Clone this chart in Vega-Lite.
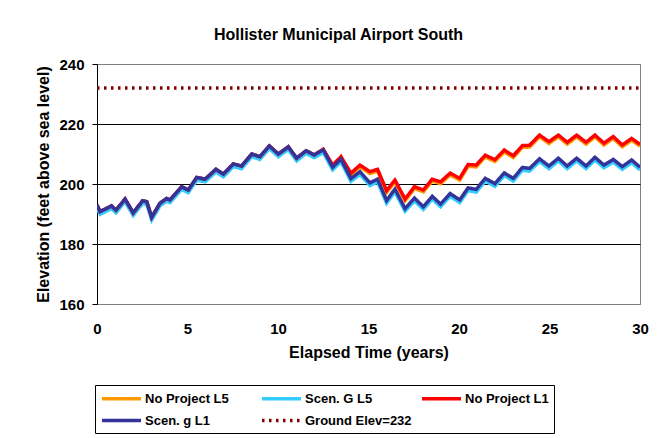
{
  "$schema": "https://vega.github.io/schema/vega-lite/v6.json",
  "width": 543,
  "height": 240,
  "autosize": {"type": "none"},
  "padding": {"left": 97, "top": 64, "right": 17, "bottom": 134},
  "background": "white",
  "config": {
    "font": "Liberation Sans",
    "view": {"stroke": "#808080", "strokeWidth": 1}
  },
  "title": {
    "text": "Hollister Municipal Airport South",
    "fontSize": 16,
    "fontWeight": "bold",
    "font": "Liberation Sans",
    "color": "black",
    "anchor": "middle",
    "dx": -30,
    "offset": 14
  },
  "data": {
    "values": [
      {"s": "Ground Elev=232", "t": 0, "v": 232},
      {"s": "Ground Elev=232", "t": 30, "v": 232},
      {"s": "No Project L1", "t": 0, "v": 193.0},
      {"s": "No Project L1", "t": 0.17, "v": 190.8},
      {"s": "No Project L1", "t": 0.8, "v": 192.7},
      {"s": "No Project L1", "t": 1.05, "v": 191.3},
      {"s": "No Project L1", "t": 1.55, "v": 195.0},
      {"s": "No Project L1", "t": 2.0, "v": 190.4},
      {"s": "No Project L1", "t": 2.52, "v": 194.4},
      {"s": "No Project L1", "t": 2.75, "v": 194.1},
      {"s": "No Project L1", "t": 3.02, "v": 188.9},
      {"s": "No Project L1", "t": 3.48, "v": 193.6},
      {"s": "No Project L1", "t": 3.85, "v": 195.2},
      {"s": "No Project L1", "t": 4.03, "v": 194.7},
      {"s": "No Project L1", "t": 4.68, "v": 199.1},
      {"s": "No Project L1", "t": 5.04, "v": 198.0},
      {"s": "No Project L1", "t": 5.51, "v": 202.2},
      {"s": "No Project L1", "t": 5.97, "v": 201.6},
      {"s": "No Project L1", "t": 6.57, "v": 204.9},
      {"s": "No Project L1", "t": 6.98, "v": 203.3},
      {"s": "No Project L1", "t": 7.53, "v": 206.7},
      {"s": "No Project L1", "t": 7.99, "v": 206.0},
      {"s": "No Project L1", "t": 8.55, "v": 210.0},
      {"s": "No Project L1", "t": 9.0, "v": 209.1},
      {"s": "No Project L1", "t": 9.52, "v": 212.7},
      {"s": "No Project L1", "t": 10.02, "v": 210.0},
      {"s": "No Project L1", "t": 10.57, "v": 212.4},
      {"s": "No Project L1", "t": 11.03, "v": 208.6},
      {"s": "No Project L1", "t": 11.55, "v": 211.1},
      {"s": "No Project L1", "t": 12.0, "v": 209.7},
      {"s": "No Project L1", "t": 12.5, "v": 211.6},
      {"s": "No Project L1", "t": 13.02, "v": 206.3},
      {"s": "No Project L1", "t": 13.48, "v": 209.1},
      {"s": "No Project L1", "t": 14.03, "v": 203.6},
      {"s": "No Project L1", "t": 14.53, "v": 206.3},
      {"s": "No Project L1", "t": 15.08, "v": 204.1},
      {"s": "No Project L1", "t": 15.5, "v": 204.9},
      {"s": "No Project L1", "t": 16.0, "v": 197.8},
      {"s": "No Project L1", "t": 16.46, "v": 201.3},
      {"s": "No Project L1", "t": 17.02, "v": 195.0},
      {"s": "No Project L1", "t": 17.54, "v": 199.1},
      {"s": "No Project L1", "t": 18.03, "v": 198.0},
      {"s": "No Project L1", "t": 18.52, "v": 201.6},
      {"s": "No Project L1", "t": 18.98, "v": 200.7},
      {"s": "No Project L1", "t": 19.51, "v": 203.6},
      {"s": "No Project L1", "t": 20.04, "v": 201.9},
      {"s": "No Project L1", "t": 20.5, "v": 206.5},
      {"s": "No Project L1", "t": 20.95, "v": 206.3},
      {"s": "No Project L1", "t": 21.45, "v": 209.6},
      {"s": "No Project L1", "t": 21.98, "v": 208.1},
      {"s": "No Project L1", "t": 22.5, "v": 211.3},
      {"s": "No Project L1", "t": 23.0, "v": 209.4},
      {"s": "No Project L1", "t": 23.5, "v": 212.8},
      {"s": "No Project L1", "t": 23.9, "v": 212.9},
      {"s": "No Project L1", "t": 24.45, "v": 216.3},
      {"s": "No Project L1", "t": 24.97, "v": 214.1},
      {"s": "No Project L1", "t": 25.49, "v": 216.3},
      {"s": "No Project L1", "t": 25.98, "v": 213.9},
      {"s": "No Project L1", "t": 26.5, "v": 216.3},
      {"s": "No Project L1", "t": 27.02, "v": 213.9},
      {"s": "No Project L1", "t": 27.51, "v": 216.3},
      {"s": "No Project L1", "t": 28.01, "v": 213.6},
      {"s": "No Project L1", "t": 28.52, "v": 215.8},
      {"s": "No Project L1", "t": 29.02, "v": 213.0},
      {"s": "No Project L1", "t": 29.54, "v": 215.2},
      {"s": "No Project L1", "t": 30.0, "v": 213.2},
      {"s": "No Project L5", "t": 0, "v": 192.8},
      {"s": "No Project L5", "t": 0.17, "v": 190.6},
      {"s": "No Project L5", "t": 0.8, "v": 192.5},
      {"s": "No Project L5", "t": 1.05, "v": 191.1},
      {"s": "No Project L5", "t": 1.55, "v": 194.8},
      {"s": "No Project L5", "t": 2.0, "v": 190.2},
      {"s": "No Project L5", "t": 2.52, "v": 194.2},
      {"s": "No Project L5", "t": 2.75, "v": 193.9},
      {"s": "No Project L5", "t": 3.02, "v": 188.7},
      {"s": "No Project L5", "t": 3.48, "v": 193.4},
      {"s": "No Project L5", "t": 3.85, "v": 195.0},
      {"s": "No Project L5", "t": 4.03, "v": 194.5},
      {"s": "No Project L5", "t": 4.68, "v": 198.9},
      {"s": "No Project L5", "t": 5.04, "v": 197.8},
      {"s": "No Project L5", "t": 5.51, "v": 202.0},
      {"s": "No Project L5", "t": 5.97, "v": 201.4},
      {"s": "No Project L5", "t": 6.57, "v": 204.7},
      {"s": "No Project L5", "t": 6.98, "v": 203.1},
      {"s": "No Project L5", "t": 7.53, "v": 206.5},
      {"s": "No Project L5", "t": 7.99, "v": 205.8},
      {"s": "No Project L5", "t": 8.55, "v": 209.8},
      {"s": "No Project L5", "t": 9.0, "v": 208.9},
      {"s": "No Project L5", "t": 9.52, "v": 212.5},
      {"s": "No Project L5", "t": 10.02, "v": 209.8},
      {"s": "No Project L5", "t": 10.57, "v": 212.2},
      {"s": "No Project L5", "t": 11.03, "v": 208.4},
      {"s": "No Project L5", "t": 11.55, "v": 210.9},
      {"s": "No Project L5", "t": 12.0, "v": 209.5},
      {"s": "No Project L5", "t": 12.5, "v": 211.4},
      {"s": "No Project L5", "t": 13.02, "v": 205.7},
      {"s": "No Project L5", "t": 13.48, "v": 208.5},
      {"s": "No Project L5", "t": 14.03, "v": 203.0},
      {"s": "No Project L5", "t": 14.53, "v": 205.7},
      {"s": "No Project L5", "t": 15.08, "v": 203.5},
      {"s": "No Project L5", "t": 15.5, "v": 204.3},
      {"s": "No Project L5", "t": 16.0, "v": 197.2},
      {"s": "No Project L5", "t": 16.46, "v": 200.7},
      {"s": "No Project L5", "t": 17.02, "v": 194.4},
      {"s": "No Project L5", "t": 17.54, "v": 198.5},
      {"s": "No Project L5", "t": 18.03, "v": 197.4},
      {"s": "No Project L5", "t": 18.52, "v": 201.0},
      {"s": "No Project L5", "t": 18.98, "v": 200.1},
      {"s": "No Project L5", "t": 19.51, "v": 203.0},
      {"s": "No Project L5", "t": 20.04, "v": 201.3},
      {"s": "No Project L5", "t": 20.5, "v": 205.9},
      {"s": "No Project L5", "t": 20.95, "v": 205.7},
      {"s": "No Project L5", "t": 21.45, "v": 209.0},
      {"s": "No Project L5", "t": 21.98, "v": 207.5},
      {"s": "No Project L5", "t": 22.5, "v": 210.7},
      {"s": "No Project L5", "t": 23.0, "v": 208.8},
      {"s": "No Project L5", "t": 23.5, "v": 212.2},
      {"s": "No Project L5", "t": 23.9, "v": 212.3},
      {"s": "No Project L5", "t": 24.45, "v": 215.7},
      {"s": "No Project L5", "t": 24.97, "v": 213.5},
      {"s": "No Project L5", "t": 25.49, "v": 215.7},
      {"s": "No Project L5", "t": 25.98, "v": 213.3},
      {"s": "No Project L5", "t": 26.5, "v": 215.7},
      {"s": "No Project L5", "t": 27.02, "v": 213.3},
      {"s": "No Project L5", "t": 27.51, "v": 215.7},
      {"s": "No Project L5", "t": 28.01, "v": 213.0},
      {"s": "No Project L5", "t": 28.52, "v": 215.2},
      {"s": "No Project L5", "t": 29.02, "v": 212.4},
      {"s": "No Project L5", "t": 29.54, "v": 214.6},
      {"s": "No Project L5", "t": 30.0, "v": 212.6},
      {"s": "Scen. g L1", "t": 0, "v": 193.0},
      {"s": "Scen. g L1", "t": 0.17, "v": 190.8},
      {"s": "Scen. g L1", "t": 0.8, "v": 192.7},
      {"s": "Scen. g L1", "t": 1.05, "v": 191.3},
      {"s": "Scen. g L1", "t": 1.55, "v": 195.0},
      {"s": "Scen. g L1", "t": 2.0, "v": 190.4},
      {"s": "Scen. g L1", "t": 2.52, "v": 194.4},
      {"s": "Scen. g L1", "t": 2.75, "v": 194.1},
      {"s": "Scen. g L1", "t": 3.02, "v": 188.9},
      {"s": "Scen. g L1", "t": 3.48, "v": 193.6},
      {"s": "Scen. g L1", "t": 3.85, "v": 195.2},
      {"s": "Scen. g L1", "t": 4.03, "v": 194.7},
      {"s": "Scen. g L1", "t": 4.68, "v": 199.1},
      {"s": "Scen. g L1", "t": 5.04, "v": 198.0},
      {"s": "Scen. g L1", "t": 5.51, "v": 202.2},
      {"s": "Scen. g L1", "t": 5.97, "v": 201.6},
      {"s": "Scen. g L1", "t": 6.57, "v": 204.9},
      {"s": "Scen. g L1", "t": 6.98, "v": 203.3},
      {"s": "Scen. g L1", "t": 7.53, "v": 206.7},
      {"s": "Scen. g L1", "t": 7.99, "v": 206.0},
      {"s": "Scen. g L1", "t": 8.55, "v": 210.0},
      {"s": "Scen. g L1", "t": 9.0, "v": 209.1},
      {"s": "Scen. g L1", "t": 9.52, "v": 212.7},
      {"s": "Scen. g L1", "t": 10.02, "v": 210.0},
      {"s": "Scen. g L1", "t": 10.57, "v": 212.4},
      {"s": "Scen. g L1", "t": 11.03, "v": 208.6},
      {"s": "Scen. g L1", "t": 11.55, "v": 211.1},
      {"s": "Scen. g L1", "t": 12.0, "v": 209.7},
      {"s": "Scen. g L1", "t": 12.5, "v": 211.4},
      {"s": "Scen. g L1", "t": 13.02, "v": 205.6},
      {"s": "Scen. g L1", "t": 13.48, "v": 208.3},
      {"s": "Scen. g L1", "t": 14.03, "v": 201.8},
      {"s": "Scen. g L1", "t": 14.53, "v": 204.1},
      {"s": "Scen. g L1", "t": 15.08, "v": 200.4},
      {"s": "Scen. g L1", "t": 15.5, "v": 201.6},
      {"s": "Scen. g L1", "t": 16.0, "v": 194.5},
      {"s": "Scen. g L1", "t": 16.46, "v": 198.3},
      {"s": "Scen. g L1", "t": 17.02, "v": 191.8},
      {"s": "Scen. g L1", "t": 17.54, "v": 195.3},
      {"s": "Scen. g L1", "t": 18.03, "v": 192.4},
      {"s": "Scen. g L1", "t": 18.52, "v": 195.9},
      {"s": "Scen. g L1", "t": 18.98, "v": 193.3},
      {"s": "Scen. g L1", "t": 19.51, "v": 196.8},
      {"s": "Scen. g L1", "t": 20.04, "v": 194.7},
      {"s": "Scen. g L1", "t": 20.5, "v": 198.7},
      {"s": "Scen. g L1", "t": 20.95, "v": 198.2},
      {"s": "Scen. g L1", "t": 21.45, "v": 201.9},
      {"s": "Scen. g L1", "t": 21.98, "v": 200.1},
      {"s": "Scen. g L1", "t": 22.5, "v": 203.7},
      {"s": "Scen. g L1", "t": 23.0, "v": 201.9},
      {"s": "Scen. g L1", "t": 23.5, "v": 205.5},
      {"s": "Scen. g L1", "t": 23.9, "v": 205.2},
      {"s": "Scen. g L1", "t": 24.45, "v": 208.4},
      {"s": "Scen. g L1", "t": 24.97, "v": 206.0},
      {"s": "Scen. g L1", "t": 25.49, "v": 208.6},
      {"s": "Scen. g L1", "t": 25.98, "v": 206.0},
      {"s": "Scen. g L1", "t": 26.5, "v": 208.6},
      {"s": "Scen. g L1", "t": 27.02, "v": 206.0},
      {"s": "Scen. g L1", "t": 27.51, "v": 208.9},
      {"s": "Scen. g L1", "t": 28.01, "v": 206.3},
      {"s": "Scen. g L1", "t": 28.52, "v": 208.2},
      {"s": "Scen. g L1", "t": 29.02, "v": 205.8},
      {"s": "Scen. g L1", "t": 29.54, "v": 208.0},
      {"s": "Scen. g L1", "t": 30.0, "v": 205.6},
      {"s": "Scen. G L5", "t": 0, "v": 192.1},
      {"s": "Scen. G L5", "t": 0.17, "v": 189.9},
      {"s": "Scen. G L5", "t": 0.8, "v": 191.8},
      {"s": "Scen. G L5", "t": 1.05, "v": 190.4},
      {"s": "Scen. G L5", "t": 1.55, "v": 194.1},
      {"s": "Scen. G L5", "t": 2.0, "v": 189.5},
      {"s": "Scen. G L5", "t": 2.52, "v": 193.5},
      {"s": "Scen. G L5", "t": 2.75, "v": 193.2},
      {"s": "Scen. G L5", "t": 3.02, "v": 188.0},
      {"s": "Scen. G L5", "t": 3.48, "v": 192.7},
      {"s": "Scen. G L5", "t": 3.85, "v": 194.3},
      {"s": "Scen. G L5", "t": 4.03, "v": 193.8},
      {"s": "Scen. G L5", "t": 4.68, "v": 198.2},
      {"s": "Scen. G L5", "t": 5.04, "v": 197.1},
      {"s": "Scen. G L5", "t": 5.51, "v": 201.3},
      {"s": "Scen. G L5", "t": 5.97, "v": 200.7},
      {"s": "Scen. G L5", "t": 6.57, "v": 204.0},
      {"s": "Scen. G L5", "t": 6.98, "v": 202.4},
      {"s": "Scen. G L5", "t": 7.53, "v": 205.8},
      {"s": "Scen. G L5", "t": 7.99, "v": 205.1},
      {"s": "Scen. G L5", "t": 8.55, "v": 209.1},
      {"s": "Scen. G L5", "t": 9.0, "v": 208.2},
      {"s": "Scen. G L5", "t": 9.52, "v": 211.8},
      {"s": "Scen. G L5", "t": 10.02, "v": 209.1},
      {"s": "Scen. G L5", "t": 10.57, "v": 211.5},
      {"s": "Scen. G L5", "t": 11.03, "v": 207.7},
      {"s": "Scen. G L5", "t": 11.55, "v": 210.2},
      {"s": "Scen. G L5", "t": 12.0, "v": 208.8},
      {"s": "Scen. G L5", "t": 12.5, "v": 210.5},
      {"s": "Scen. G L5", "t": 13.02, "v": 204.7},
      {"s": "Scen. G L5", "t": 13.48, "v": 207.4},
      {"s": "Scen. G L5", "t": 14.03, "v": 200.9},
      {"s": "Scen. G L5", "t": 14.53, "v": 203.2},
      {"s": "Scen. G L5", "t": 15.08, "v": 199.5},
      {"s": "Scen. G L5", "t": 15.5, "v": 200.7},
      {"s": "Scen. G L5", "t": 16.0, "v": 193.6},
      {"s": "Scen. G L5", "t": 16.46, "v": 197.4},
      {"s": "Scen. G L5", "t": 17.02, "v": 190.9},
      {"s": "Scen. G L5", "t": 17.54, "v": 194.4},
      {"s": "Scen. G L5", "t": 18.03, "v": 191.5},
      {"s": "Scen. G L5", "t": 18.52, "v": 195.0},
      {"s": "Scen. G L5", "t": 18.98, "v": 192.4},
      {"s": "Scen. G L5", "t": 19.51, "v": 195.9},
      {"s": "Scen. G L5", "t": 20.04, "v": 193.8},
      {"s": "Scen. G L5", "t": 20.5, "v": 197.8},
      {"s": "Scen. G L5", "t": 20.95, "v": 197.3},
      {"s": "Scen. G L5", "t": 21.45, "v": 201.0},
      {"s": "Scen. G L5", "t": 21.98, "v": 199.2},
      {"s": "Scen. G L5", "t": 22.5, "v": 202.8},
      {"s": "Scen. G L5", "t": 23.0, "v": 201.0},
      {"s": "Scen. G L5", "t": 23.5, "v": 204.6},
      {"s": "Scen. G L5", "t": 23.9, "v": 204.3},
      {"s": "Scen. G L5", "t": 24.45, "v": 207.5},
      {"s": "Scen. G L5", "t": 24.97, "v": 205.1},
      {"s": "Scen. G L5", "t": 25.49, "v": 207.7},
      {"s": "Scen. G L5", "t": 25.98, "v": 205.1},
      {"s": "Scen. G L5", "t": 26.5, "v": 207.7},
      {"s": "Scen. G L5", "t": 27.02, "v": 205.1},
      {"s": "Scen. G L5", "t": 27.51, "v": 208.0},
      {"s": "Scen. G L5", "t": 28.01, "v": 205.4},
      {"s": "Scen. G L5", "t": 28.52, "v": 207.3},
      {"s": "Scen. G L5", "t": 29.02, "v": 204.9},
      {"s": "Scen. G L5", "t": 29.54, "v": 207.1},
      {"s": "Scen. G L5", "t": 30.0, "v": 204.7}
    ]
  },
  "encoding": {
    "x": {
      "field": "t",
      "type": "quantitative",
      "scale": {"domain": [0, 30], "nice": false, "zero": false},
      "axis": {
        "title": "Elapsed Time (years)",
        "values": [0, 5, 10, 15, 20, 25, 30],
        "grid": false,
        "ticks": false,
        "domainColor": "#808080",
        "labelFontSize": 15,
        "labelFontWeight": "bold",
        "labelColor": "black",
        "labelPadding": 17,
        "labelFlush": false,
        "titleFontSize": 16,
        "titleFontWeight": "bold",
        "titleColor": "black",
        "titlePadding": 8
      }
    },
    "y": {
      "field": "v",
      "type": "quantitative",
      "scale": {"domain": [160, 240], "nice": false, "zero": false},
      "axis": {
        "title": "Elevation (feet above sea level)",
        "values": [160, 180, 200, 220, 240],
        "grid": true,
        "gridColor": {"condition": {"test": "datum.value == 240 || datum.value == 160", "value": "#808080"}, "value": "black"},
        "gridOpacity": 1,
        "domainColor": "black",
        "tickColor": "black",
        "tickSize": 5,
        "labelFontSize": 15,
        "labelFontWeight": "bold",
        "labelColor": "black",
        "labelPadding": 8,
        "labelFlush": false,
        "titleFontSize": 16,
        "titleFontWeight": "bold",
        "titleColor": "black",
        "titlePadding": 7
      }
    },
    "color": {
      "field": "s",
      "type": "nominal",
      "title": null,
      "scale": {
        "domain": ["No Project L5", "Scen. G L5", "No Project L1", "Scen. g L1", "Ground Elev=232"],
        "range": ["#FF9900", "#33CCFF", "#FF0000", "#333399", "#800000"]
      },
      "legend": {
        "orient": "none",
        "legendX": -2,
        "legendY": 321,
        "direction": "horizontal",
        "columns": 3,
        "gridAlign": "all",
        "columnPadding": 3,
        "rowPadding": 6,
        "padding": 5,
        "strokeColor": "black",
        "fillColor": "white",
        "symbolType": "M-1,0H5",
        "symbolSize": 169,
        "labelFontSize": 13,
        "labelFontWeight": "bold",
        "labelColor": "black",
        "labelOffset": 28,
        "labelLimit": 200
      }
    },
    "strokeWidth": {
      "field": "s",
      "type": "nominal",
      "title": null,
      "scale": {
        "domain": ["No Project L5", "Scen. G L5", "No Project L1", "Scen. g L1", "Ground Elev=232"],
        "range": [3.5, 3.5, 1.5, 1.5, 2]
      }
    },
    "strokeDash": {
      "field": "s",
      "type": "nominal",
      "title": null,
      "scale": {
        "domain": ["No Project L5", "Scen. G L5", "No Project L1", "Scen. g L1", "Ground Elev=232"],
        "range": [[1, 0], [1, 0], [1, 0], [1, 0], [2.5, 4.5]]
      }
    }
  },
  "layer": [
    {"transform": [{"filter": "datum.s == 'Ground Elev=232'"}], "mark": {"type": "line", "clip": true}},
    {"transform": [{"filter": "datum.s == 'No Project L5'"}], "mark": {"type": "line", "clip": true}},
    {"transform": [{"filter": "datum.s == 'Scen. G L5'"}], "mark": {"type": "line", "clip": true}},
    {"transform": [{"filter": "datum.s == 'No Project L1'"}], "mark": {"type": "line", "clip": true}},
    {"transform": [{"filter": "datum.s == 'Scen. g L1'"}], "mark": {"type": "line", "clip": true}}
  ]
}
